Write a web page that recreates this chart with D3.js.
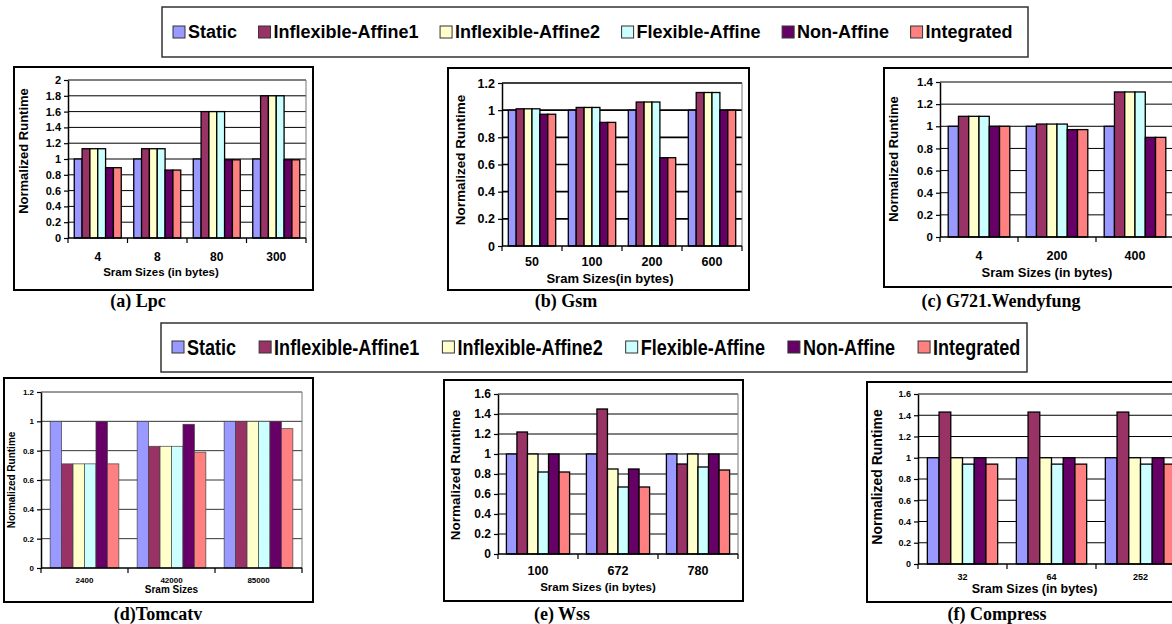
<!DOCTYPE html>
<html>
<head>
<meta charset="utf-8">
<script src="https://cdn.jsdelivr.net/npm/d3@7"></script>
<style>
body { margin: 0; background: #fff; }
svg { display: block; }
</style>
</head>
<body>
<script type="text/javascript">
var w = 1172;
var h = 624;

// SERIES
var seriesNames = ["Static", "Inflexible-Affine1", "Inflexible-Affine2", "Flexible-Affine", "Non-Affine", "Integrated"];
var seriesColors = ["#9999ff", "#993366", "#ffffcc", "#ccffff", "#660066", "#ff8080"];

// (a) Lpc
var lpcSizes = ["4", "8", "80", "300"];
var lpcValues = [
  [1, 1.13, 1.13, 1.13, 0.89, 0.89],
  [1, 1.13, 1.13, 1.13, 0.86, 0.86],
  [1, 1.6, 1.6, 1.6, 0.99, 0.99],
  [1, 1.8, 1.8, 1.8, 0.99, 0.99]
];
var lpcTicks = [0, 0.2, 0.4, 0.6, 0.8, 1, 1.2, 1.4, 1.6, 1.8, 2];

// (b) Gsm
var gsmSizes = ["50", "100", "200", "600"];
var gsmValues = [
  [1, 1.01, 1.01, 1.01, 0.97, 0.97],
  [1, 1.02, 1.02, 1.02, 0.91, 0.91],
  [1, 1.06, 1.06, 1.06, 0.65, 0.65],
  [1, 1.13, 1.13, 1.13, 1.0, 1.0]
];
var gsmTicks = [0, 0.2, 0.4, 0.6, 0.8, 1, 1.2];

// (c) G721.Wendyfung
var g721Sizes = ["4", "200", "400"];
var g721Values = [
  [1, 1.09, 1.09, 1.09, 1.0, 1.0],
  [1, 1.02, 1.02, 1.02, 0.97, 0.97],
  [1, 1.31, 1.31, 1.31, 0.9, 0.9]
];
var g721Ticks = [0, 0.2, 0.4, 0.6, 0.8, 1, 1.2, 1.4];

// (d) Tomcatv
var tomSizes = ["2400", "42000", "85000"];
var tomValues = [
  [1, 0.71, 0.71, 0.71, 1, 0.71],
  [1, 0.83, 0.83, 0.83, 0.98, 0.79],
  [1, 1, 1, 1, 1, 0.95]
];
var tomTicks = [0, 0.2, 0.4, 0.6, 0.8, 1, 1.2];

// (e) Wss
var wssSizes = ["100", "672", "780"];
var wssValues = [
  [1, 1.22, 1.0, 0.82, 1.0, 0.82],
  [1, 1.45, 0.85, 0.67, 0.85, 0.67],
  [1, 0.9, 1.0, 0.87, 1.0, 0.84]
];
var wssTicks = [0, 0.2, 0.4, 0.6, 0.8, 1, 1.2, 1.4, 1.6];

// (f) Compress
var compSizes = ["32", "64", "252"];
var compValues = [
  [1, 1.43, 1.0, 0.94, 1.0, 0.94],
  [1, 1.43, 1.0, 0.94, 1.0, 0.94],
  [1, 1.43, 1.0, 0.94, 1.0, 0.94]
];
var compTicks = [0, 0.2, 0.4, 0.6, 0.8, 1, 1.2, 1.4, 1.6];

var sans = "'Liberation Sans', Arial, sans-serif";
var serif = "'Liberation Serif', 'Times New Roman', serif";

//CREATE MAIN SVG ELEMENT
const svg = d3.select("body").append("svg").attr('width', w).attr('height', h).style('background-color', 'white');

//LEGEND
function drawLegend(box, cy, fontSize, squeeze, gap) {
  var lg = svg.append('g');
  lg.append('rect').attr('x', box[0]).attr('y', box[1]).attr('width', box[2] - box[0]).attr('height', box[3] - box[1])
    .attr('fill', 'none').attr('stroke', '#333').attr('stroke-width', 1.5);
  var xPos = box[0] + 11;
  seriesNames.forEach(function (name, i) {
    lg.append('rect').attr('x', xPos).attr('y', cy - 6).attr('width', 12).attr('height', 12)
      .attr('fill', seriesColors[i]).attr('stroke', '#333').attr('stroke-width', 1);
    var t = lg.append('text').attr('font-family', sans).attr('font-weight', 'bold').attr('font-size', fontSize)
      .attr('transform', 'translate(' + (xPos + 15) + ',' + (cy + fontSize * 0.36) + ') scale(' + squeeze + ',1)')
      .text(name);
    xPos += 15 + t.node().getComputedTextLength() * squeeze + gap;
  });
}
drawLegend([162, 7, 1028, 57], 32, 18, 1, 21.5);
drawLegend([161, 323, 1027, 372], 347, 22, 0.82, 23);

//DRAW ONE PANEL
function drawPanel(p) {
  var g = svg.append('g');
  g.append('rect').attr('x', p.frame[0]).attr('y', p.frame[1]).attr('width', p.frame[2] - p.frame[0]).attr('height', p.frame[3] - p.frame[1])
    .attr('fill', 'white').attr('stroke', '#000').attr('stroke-width', 2);

  var x = d3.scaleBand().domain(p.cats).range([p.left, p.right]);
  var y = d3.scaleLinear().domain([0, d3.max(p.ticks)]).range([p.bottom, p.top]);
  var inner = d3.scaleBand().domain(seriesNames).range([x.bandwidth() * 0.105, x.bandwidth() * 0.895]);

  // gridlines
  g.append('g').selectAll('line').data(p.ticks.filter(function (t) { return t > 0; })).join('line')
    .attr('x1', p.left).attr('x2', p.right).attr('y1', function (d) { return y(d); }).attr('y2', function (d) { return y(d); })
    .attr('stroke', '#000').attr('stroke-width', p.grid);
  g.append('line').attr('x1', p.right).attr('x2', p.right).attr('y1', p.top).attr('y2', p.bottom)
    .attr('stroke', '#777').attr('stroke-width', 1);

  // bars
  var groups = g.append('g').selectAll('g').data(p.values).join('g')
    .attr('transform', function (d, i) { return 'translate(' + x(p.cats[i]) + ',0)'; });
  groups.selectAll('rect').data(function (d) { return d; }).join('rect')
    .attr('x', function (d, i) { return inner(seriesNames[i]); })
    .attr('y', function (d) { return y(d); })
    .attr('width', inner.bandwidth())
    .attr('height', function (d) { return y(0) - y(d); })
    .attr('fill', function (d, i) { return seriesColors[i]; })
    .attr('stroke', p.barStroke).attr('stroke-width', p.barStrokeW);

  // y axis
  var ya = g.append('g').attr('transform', 'translate(' + p.left + ',0)')
    .call(d3.axisLeft(y).tickValues(p.ticks).tickFormat(d3.format('~g')).tickSize(4).tickSizeOuter(0).tickPadding(3));
  ya.select('.domain').attr('stroke', '#000').attr('stroke-width', 1.5);
  ya.selectAll('.tick line').attr('stroke', '#000').attr('stroke-width', 1.2);
  ya.selectAll('text').attr('font-family', sans).attr('font-weight', 'bold').attr('font-size', p.yFont).attr('fill', '#000');

  // x axis
  g.append('line').attr('x1', p.left).attr('x2', p.right).attr('y1', p.bottom).attr('y2', p.bottom)
    .attr('stroke', '#000').attr('stroke-width', 1.5);
  var bounds = p.cats.map(function (c) { return x(c); }).concat([p.right]);
  g.append('g').selectAll('line').data(bounds).join('line')
    .attr('x1', function (d) { return d; }).attr('x2', function (d) { return d; })
    .attr('y1', p.bottom).attr('y2', p.bottom + 5).attr('stroke', '#000').attr('stroke-width', 1.2);
  g.append('g').selectAll('text').data(p.cats).join('text')
    .attr('x', function (d) { return x(d) + x.bandwidth() / 2; }).attr('y', p.xLabelY)
    .attr('text-anchor', 'middle').attr('font-family', sans).attr('font-weight', 'bold').attr('font-size', p.xFont)
    .text(function (d) { return d; });

  // titles
  g.append('text').attr('x', (p.left + p.right) / 2 + p.xTitleShift).attr('y', p.xTitleY)
    .attr('text-anchor', 'middle').attr('font-family', sans).attr('font-weight', 'bold').attr('font-size', p.xTitleFont)
    .text(p.xTitle);
  g.append('text').attr('transform', 'translate(' + p.yTitleX + ',' + p.yTitleY + ') rotate(-90)')
    .attr('text-anchor', 'middle').attr('font-family', sans).attr('font-weight', 'bold').attr('font-size', p.yTitleFont)
    .text('Normalized Runtime');

  // caption
  svg.append('text').attr('x', p.capX).attr('y', p.capY).attr('text-anchor', 'middle')
    .attr('font-family', serif).attr('font-weight', 'bold').attr('font-size', 18).text(p.caption);
}

drawPanel({ cats: lpcSizes, values: lpcValues, ticks: lpcTicks, frame: [14, 67, 313, 290],
  left: 68, right: 306, top: 80, bottom: 238, grid: 1, barStroke: '#000', barStrokeW: 1.3,
  yFont: 11, xFont: 12, xLabelY: 261, xTitle: 'Sram Sizes (in bytes)', xTitleY: 276, xTitleFont: 11.5, xTitleShift: -26,
  yTitleX: 28, yTitleY: 151, yTitleFont: 13, caption: '(a) Lpc', capX: 138, capY: 307 });

drawPanel({ cats: gsmSizes, values: gsmValues, ticks: gsmTicks, frame: [448, 68, 749, 290],
  left: 502, right: 742, top: 83, bottom: 246, grid: 1.6, barStroke: '#000', barStrokeW: 1.3,
  yFont: 12.5, xFont: 12.5, xLabelY: 266, xTitle: 'Sram Sizes(in bytes)', xTitleY: 283, xTitleFont: 13, xTitleShift: -12,
  yTitleX: 465, yTitleY: 160, yTitleFont: 13.5, caption: '(b) Gsm', capX: 566, capY: 307 });

drawPanel({ cats: g721Sizes, values: g721Values, ticks: g721Ticks, frame: [884, 68, 1190, 287],
  left: 940, right: 1174, top: 82, bottom: 237, grid: 1, barStroke: '#000', barStrokeW: 1.3,
  yFont: 11.5, xFont: 12.5, xLabelY: 260, xTitle: 'Sram Sizes (in bytes)', xTitleY: 277, xTitleFont: 13, xTitleShift: -10,
  yTitleX: 898, yTitleY: 159, yTitleFont: 13, caption: '(c) G721.Wendyfung', capX: 1001, capY: 307 });

drawPanel({ cats: tomSizes, values: tomValues, ticks: tomTicks, frame: [4, 378, 313, 602],
  left: 41, right: 302, top: 392, bottom: 568, grid: 0.8, barStroke: '#444', barStrokeW: 0.7,
  yFont: 8, xFont: 8, xLabelY: 583, xTitle: 'Sram Sizes', xTitleY: 593, xTitleFont: 10, xTitleShift: 0,
  yTitleX: 15, yTitleY: 480, yTitleFont: 10, caption: '(d)Tomcatv', capX: 158, capY: 620 });

drawPanel({ cats: wssSizes, values: wssValues, ticks: wssTicks, frame: [444, 380, 743, 601],
  left: 498, right: 738, top: 394, bottom: 554, grid: 1, barStroke: '#000', barStrokeW: 1.3,
  yFont: 12, xFont: 12.5, xLabelY: 575, xTitle: 'Sram Sizes (in bytes)', xTitleY: 591, xTitleFont: 11.5, xTitleShift: -20,
  yTitleX: 460, yTitleY: 475, yTitleFont: 13.5, caption: '(e) Wss', capX: 562, capY: 620 });

drawPanel({ cats: compSizes, values: compValues, ticks: compTicks, frame: [867, 382, 1190, 602],
  left: 918, right: 1185, top: 394, bottom: 564, grid: 1, barStroke: '#000', barStrokeW: 1.3,
  yFont: 9, xFont: 9, xLabelY: 580, xTitle: 'Sram Sizes (in bytes)', xTitleY: 593, xTitleFont: 12.5, xTitleShift: -17,
  yTitleX: 882, yTitleY: 477, yTitleFont: 14, caption: '(f) Compress', capX: 997, capY: 620 });
</script>
</body>
</html>
